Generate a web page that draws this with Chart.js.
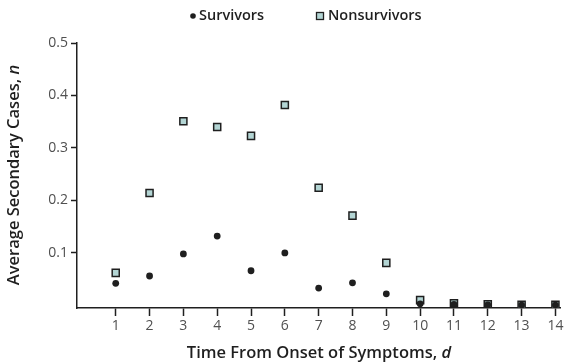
<!DOCTYPE html>
<html>
<head>
<meta charset="utf-8">
<script src="https://cdn.jsdelivr.net/npm/chart.js@4.4.1/dist/chart.umd.min.js"></script>
<style>
  html, body { margin: 0; padding: 0; background: #fff; }
  #wrap { width: 567px; height: 363px; }
</style>
</head>
<body>
<div id="wrap"><canvas id="chart" width="567" height="363"></canvas></div>
<script>
// Données
const days = [1, 2, 3, 4, 5, 6, 7, 8, 9, 10, 11, 12, 13, 14];
const survivors = [0.042, 0.056, 0.098, 0.132, 0.066, 0.100, 0.033, 0.043, 0.022, 0.003, 0.002, 0.001, 0.0005, 0.0005];
const nonsurvivors = [0.062, 0.214, 0.351, 0.340, 0.323, 0.382, 0.224, 0.171, 0.081, 0.010, 0.004, 0.002, 0.001, 0.001];
const yTicks = [0.1, 0.2, 0.3, 0.4, 0.5];

const FONT = '"Open Sans", "Noto Sans", sans-serif';
const INK = '#1f1f1f';
const SQUARE_FILL = '#b3d5d4';

// Écrit un texte dont la dernière partie est en italique, centré sur cx
function mixedText(ctx, normal, italic, cx, cy, size, weight) {
    ctx.font = weight + ' ' + size + 'px ' + FONT;
    const wa = ctx.measureText(normal).width;
    ctx.font = 'italic ' + weight + ' ' + size + 'px ' + FONT;
    const wb = ctx.measureText(italic).width;
    const x0 = cx - (wa + wb) / 2;
    ctx.font = weight + ' ' + size + 'px ' + FONT;
    ctx.fillText(normal, x0, cy);
    ctx.font = 'italic ' + weight + ' ' + size + 'px ' + FONT;
    ctx.fillText(italic, x0 + wa, cy);
}

// Légende et titres d'axes dessinés à la main
const decorations = {
    id: 'decorations',
    afterDraw(chart) {
        const ctx = chart.ctx;
        ctx.save();
        ctx.fillStyle = INK;
        ctx.textBaseline = 'middle';
        ctx.textAlign = 'left';

        // légende
        const ds = chart.data.datasets;
        ctx.font = '600 14.5px ' + FONT;
        ctx.beginPath();
        ctx.arc(193, 16, 2.8, 0, Math.PI * 2);
        ctx.fill();
        ctx.fillText(ds[0].label, 199, 16);

        ctx.fillStyle = SQUARE_FILL;
        ctx.strokeStyle = INK;
        ctx.lineWidth = 1.3;
        ctx.fillRect(316.5, 12.5, 7, 7);
        ctx.strokeRect(316.5, 12.5, 7, 7);
        ctx.fillStyle = INK;
        ctx.fillText(ds[1].label, 328, 16);

        // titre de l'axe x
        mixedText(ctx, 'Time From Onset of Symptoms, ', 'd', 319, 353, 16.5, 600);

        // titre de l'axe y
        ctx.translate(14, 175);
        ctx.rotate(-Math.PI / 2);
        mixedText(ctx, 'Average Secondary Cases, ', 'n', 0, 0, 16.5, 600);
        ctx.restore();
    }
};

const ctx = document.getElementById('chart').getContext('2d');
new Chart(ctx, {
    type: 'scatter',
    data: {
        datasets: [{
            label: 'Survivors',
            data: days.map((d, i) => ({ x: d, y: survivors[i] })),
            pointStyle: 'circle',
            pointRadius: 3.4,
            backgroundColor: INK,
            borderColor: INK,
            borderWidth: 0
        }, {
            label: 'Nonsurvivors',
            data: days.map((d, i) => ({ x: d, y: nonsurvivors[i] })),
            pointStyle: 'rect',
            pointRadius: 5,
            backgroundColor: SQUARE_FILL,
            borderColor: INK,
            borderWidth: 1.5
        }]
    },
    options: {
        responsive: false,
        animation: false,
        layout: { padding: { top: 43, right: 0, left: 0, bottom: 0 } },
        plugins: {
            tooltip: { enabled: false },
            legend: { display: false }
        },
        scales: {
            x: {
                type: 'linear',
                min: -0.145,
                max: 14.15,
                afterBuildTicks: axis => { axis.ticks = days.map(v => ({ value: v })); },
                afterFit: axis => { axis.height = 55; },
                grid: { drawOnChartArea: false, drawTicks: true, tickLength: 8, tickColor: INK, tickWidth: 1.5 },
                border: { display: true, color: INK, width: 1.5 },
                ticks: { color: '#505050', font: { family: FONT, size: 14 }, padding: 2, maxRotation: 0, autoSkip: false }
            },
            y: {
                type: 'linear',
                min: -0.005,
                max: 0.5,
                afterBuildTicks: axis => { axis.ticks = yTicks.map(v => ({ value: v })); },
                afterFit: axis => { axis.width = 77; },
                grid: { drawOnChartArea: false, drawTicks: true, tickLength: 6, tickColor: INK, tickWidth: 1.5 },
                border: { display: true, color: INK, width: 1.5 },
                ticks: {
                    color: '#505050',
                    font: { family: FONT, size: 14 },
                    padding: 3,
                    callback: v => v.toFixed(1)
                }
            }
        }
    },
    plugins: [decorations]
});
</script>
</body>
</html>
